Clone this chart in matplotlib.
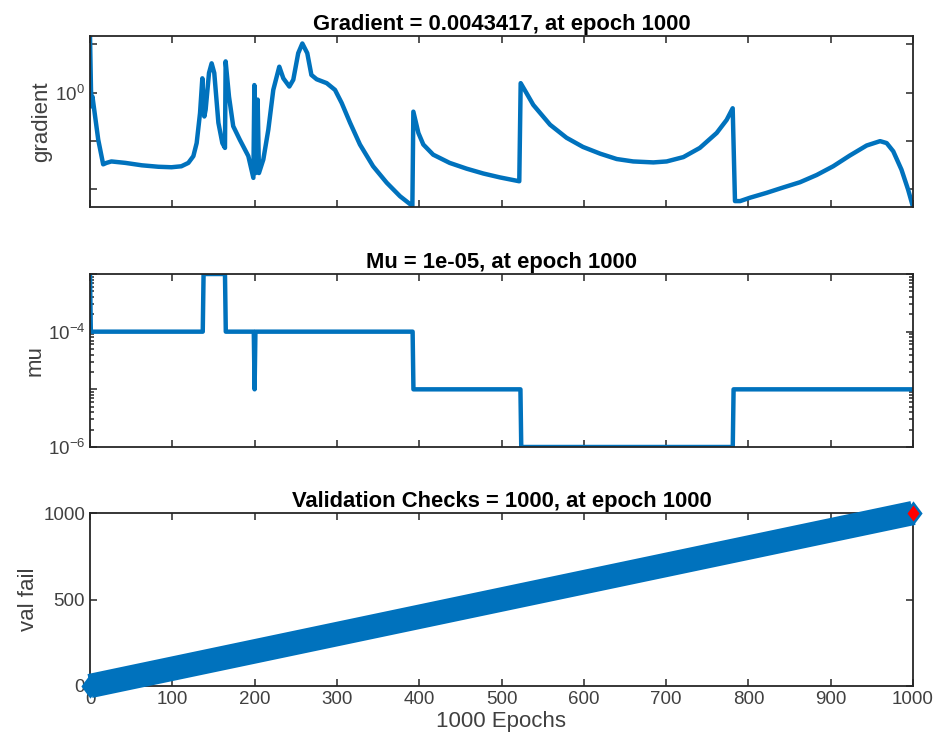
import numpy as np
import matplotlib
matplotlib.use("Agg")
import matplotlib.pyplot as plt
from matplotlib.ticker import LogLocator, NullFormatter, FixedLocator

plt.rcParams['font.family'] = ['Liberation Sans', 'DejaVu Sans']
plt.rcParams['mathtext.fontset'] = 'custom'
plt.rcParams['mathtext.rm'] = 'Liberation Sans'
plt.rcParams['mathtext.it'] = 'Liberation Sans:italic'
plt.rcParams['mathtext.bf'] = 'Liberation Sans:bold'

# gradient trace (epoch, log10 gradient)
grad_epoch = [0, 1.2, 2, 3, 10, 16, 20, 26, 43, 63, 83, 99, 111, 119.5, 125.6,
              129.6, 133.7, 136.5, 138.9, 140.5, 144.6, 147.8, 151, 156, 160.8,
              164, 164.8, 168.9, 174, 182, 192.4, 198.5, 199.7, 201.3, 203.7,
              205.3, 210.6, 216.7, 222.7, 230, 234.9, 242.2, 247, 253, 258, 264,
              269, 275.4, 287.6, 297.7, 305.8, 316, 328, 344, 360.5, 376.7, 391.7,
              392.9, 399, 405, 417, 437, 457.7, 478, 498, 521.6, 523.3, 530.5,
              538.6, 559, 579, 599, 620, 640, 660, 684.5, 700.7, 721, 741, 761.5,
              773.6, 780.9, 783.7, 790, 802, 822, 842, 862.7, 883, 903, 923, 943.7,
              960, 968, 976, 986, 994, 1000]
grad_log = [1.175, 0.06, -0.28, -0.08, -0.97, -1.48, -1.45, -1.42, -1.45, -1.50,
            -1.53, -1.54, -1.52, -1.45, -1.31, -1.04, -0.42, 0.30, -0.49, -0.35,
            0.41, 0.61, 0.41, -0.62, -1.04, -1.14, 0.65, -0.08, -0.69, -0.97,
            -1.31, -1.76, 0.16, -1.66, -0.14, -1.66, -1.38, -0.76, 0.06, 0.54,
            0.30, 0.13, 0.27, 0.82, 1.02, 0.82, 0.37, 0.28, 0.20, 0.06, -0.21,
            -0.62, -1.07, -1.52, -1.86, -2.14, -2.34, -0.39, -0.83, -1.07, -1.28,
            -1.45, -1.57, -1.67, -1.75, -1.83, 0.20, -0.01, -0.25, -0.66, -0.93,
            -1.12, -1.26, -1.37, -1.42, -1.44, -1.42, -1.33, -1.14, -0.83, -0.56,
            -0.32, -2.24, -2.24, -2.17, -2.07, -1.96, -1.85, -1.70, -1.52, -1.30,
            -1.09, -1.00, -1.04, -1.21, -1.59, -2.00, -2.3624]

# mu staircase
mu_epoch = [0, 1, 137, 138, 164, 165, 199, 200, 201, 392, 393, 523, 524, 781, 782, 1000]
mu_val = [1e-3, 1e-4, 1e-4, 1e-3, 1e-3, 1e-4, 1e-4, 1e-5, 1e-4, 1e-4, 1e-5,
          1e-5, 1e-6, 1e-6, 1e-5, 1e-5]

# validation checks
vf_epoch = [0, 1000]
vf_val = [0, 1000]
best_epoch = 1000
best_val = 1000

xticks = [0, 100, 200, 300, 400, 500, 600, 700, 800, 900, 1000]

blue = '#0072BD'
axcol = '#262626'
txtcol = '#404040'

grad = 10 ** np.array(grad_log)

fig = plt.figure(figsize=(9.43, 7.46), dpi=100)
W, H = 943, 746
def mkax(top, bottom):
    return fig.add_axes([90 / W, 1 - bottom / H, 823 / W, (bottom - top) / H])

ax1 = mkax(36, 207)
ax2 = mkax(274, 447)
ax3 = mkax(513, 686)

for ax in (ax1, ax2, ax3):
    ax.set_xlim(0, 1000)
    ax.set_xticks(xticks)
    ax.tick_params(which='both', direction='in', top=True, right=True,
                   color=axcol, labelcolor=txtcol, labelsize=13.5, width=1.1)
    ax.tick_params(which='major', length=5)
    ax.tick_params(which='minor', length=3)
    for s in ax.spines.values():
        s.set_color(axcol)
        s.set_linewidth(1.3)

# gradient
ax1.plot(grad_epoch, grad, color=blue, lw=3.2, solid_joinstyle='round')
ax1.set_yscale('log')
ax1.set_ylim(grad.min(), grad.max())
ax1.yaxis.set_major_locator(FixedLocator([1e-2, 1e-1, 1, 10]))
ax1.yaxis.set_minor_locator(FixedLocator([]))
ax1.set_yticklabels(['', '', r'$\mathdefault{10^{0}}$', ''])
ax1.set_xticklabels([])
ax1.set_title('Gradient = 0.0043417, at epoch 1000', fontsize=15.8, fontweight='bold', pad=4)
ax1.set_ylabel('gradient', fontsize=16, color=txtcol)

# mu
ax2.plot(mu_epoch, mu_val, color=blue, lw=3.2)
ax2.set_yscale('log')
ax2.set_ylim(1e-6, 1e-3)
ax2.yaxis.set_major_locator(FixedLocator([1e-6, 1e-5, 1e-4, 1e-3]))
ax2.yaxis.set_minor_locator(LogLocator(base=10, subs=np.arange(2, 10)))
ax2.yaxis.set_minor_formatter(NullFormatter())
ax2.set_yticklabels([r'$\mathdefault{10^{-6}}$', '', r'$\mathdefault{10^{-4}}$', ''])
ax2.set_xticklabels([])
ax2.set_title('Mu = 1e-05, at epoch 1000', fontsize=15.8, fontweight='bold', pad=4)
ax2.set_ylabel('mu', fontsize=16, color=txtcol)

# validation fails
dia = [(-0.75, 0), (0, 1), (0.75, 0), (0, -1), (-0.75, 0)]
ax3.plot(vf_epoch, vf_val, color=blue, lw=17.5, solid_capstyle='butt',
         marker=dia, markersize=17.5, markeredgewidth=0, clip_on=False, zorder=5)
ax3.plot([best_epoch], [best_val], linestyle='none', marker=dia, markersize=11.5,
         markerfacecolor='red', markeredgewidth=0, clip_on=False, zorder=6)
ax3.set_ylim(0, 1000)
ax3.set_yticks([0, 500, 1000])
ax3.set_title('Validation Checks = 1000, at epoch 1000', fontsize=15.8, fontweight='bold', pad=4)
ax3.set_ylabel('val fail', fontsize=16, color=txtcol)
ax3.set_xlabel('1000 Epochs', fontsize=16, color=txtcol, labelpad=2)

for ax, xc in ((ax1, 41.5), (ax2, 35), (ax3, 28)):
    ax.yaxis.label.set_verticalalignment('center')
    ax.yaxis.set_label_coords((xc - 90) / 823, 0.5)

fig.savefig('out.png', dpi=100)
